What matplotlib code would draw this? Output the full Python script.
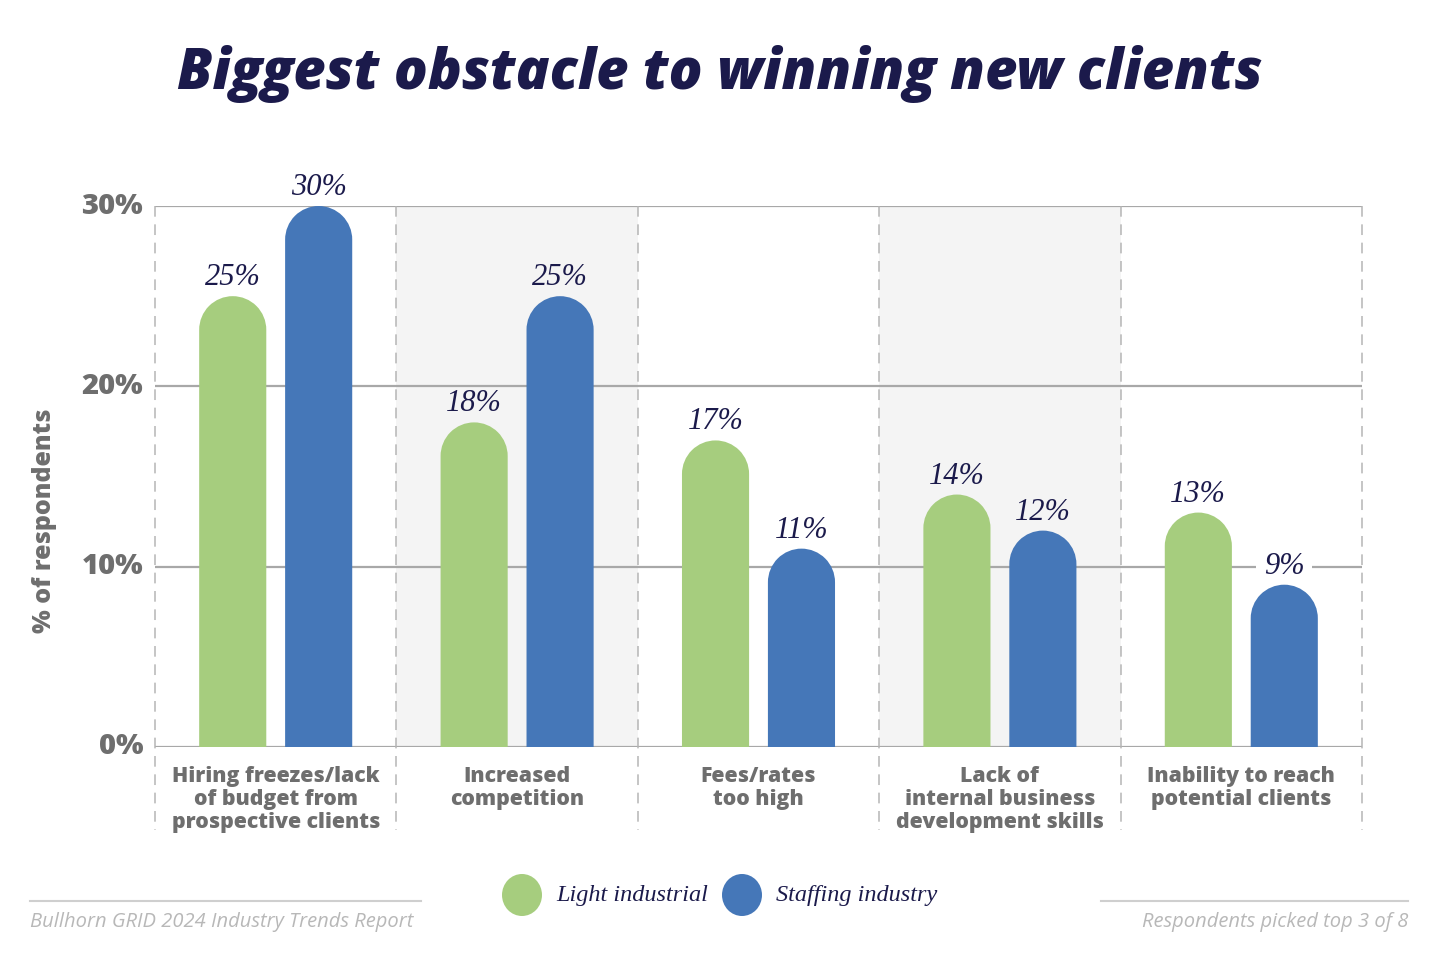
import matplotlib.pyplot as plt
import numpy as np
from matplotlib.lines import Line2D
from matplotlib.patches import Ellipse, PathPatch, Rectangle
from matplotlib.path import Path

# -------------------- data --------------------
categories = [
    "Hiring freezes/lack\nof budget from\nprospective clients",
    "Increased\ncompetition",
    "Fees/rates\ntoo high",
    "Lack of\ninternal business\ndevelopment skills",
    "Inability to reach\npotential clients",
]
light_industrial = [25, 18, 17, 14, 13]
staffing_industry = [30, 25, 11, 12, 9]
series_names = ["Light industrial", "Staffing industry"]
y_ticks = [0, 10, 20, 30]
y_tick_labels = ["0%", "10%", "20%", "30%"]

# -------------------- style --------------------
GREEN = "#a6cd7e"
BLUE = "#4577b8"
NAVY = "#1b1a4b"
GREY_TXT = "#6e6e6e"
GRID = "#a8a8a8"
SHADE = "#f4f4f4"
SANS = "Open Sans"
SERIF = "Liberation Serif"

W, H, DPI = 1440, 956, 100
fig = plt.figure(figsize=(W / DPI, H / DPI), dpi=DPI)
fig.patch.set_facecolor("white")

# axes box in pixels: left 155, right 1362, 0% at y=747, 30% at y=206
ax = fig.add_axes([155 / W, (H - 747) / H, 1207 / W, 541 / H])
n = len(categories)
ax.set_xlim(-0.5, n - 0.5)
ax.set_ylim(0, 30)
ax.axis("off")

px_x = 1207 / n            # pixels per x unit
px_y = 541 / 30            # pixels per y unit

# alternating shaded columns
for i in range(n):
    if i % 2 == 1:
        ax.add_patch(Rectangle((i - 0.5, 0), 1, 30, facecolor=SHADE,
                               edgecolor="none", zorder=0))

# horizontal grid
for t in y_ticks:
    ax.axhline(t, color=GRID, lw=1.6, zorder=1)

# dashed dividers, running below the axis
for b in np.arange(-0.5, n, 1.0):
    ax.plot([b, b], [30, -4.6], color="#b5b5b5", lw=1.1,
            dashes=(7, 5), clip_on=False, zorder=1)

# y tick labels
for t, lab in zip(y_ticks, y_tick_labels):
    ax.text(-0.5 - 12 / px_x, t, lab, ha="right", va="center",
            fontsize=21, fontweight="heavy", color=GREY_TXT, family=SANS)

# category labels
for i, c in enumerate(categories):
    ax.text(i, -1.05, c, ha="center", va="top", fontsize=15.3,
            fontweight="heavy", color=GREY_TXT, family=SANS,
            linespacing=1.12, clip_on=False)


def rounded_bar(xc, h, w, color):
    """Bar with a semicircular top, one path so there is no seam."""
    rx = w / 2
    ry = rx * px_x / px_y
    arc = Path.arc(0, 180)
    arc_pts = arc.vertices * [rx, ry] + [xc, h - ry]
    verts = ([(xc + rx, 0), (xc + rx, h - ry)] + list(arc_pts[1:])
             + [(xc - rx, 0), (xc + rx, 0)])
    codes = ([Path.MOVETO, Path.LINETO] + list(arc.codes[1:])
             + [Path.LINETO, Path.CLOSEPOLY])
    ax.add_patch(PathPatch(Path(verts, codes), facecolor=color,
                           edgecolor="none", zorder=3))


bar_w = 0.278
offset = 0.178
gap = 11 / px_y
cap = 22 / px_y
x = np.arange(n)
for vals, col, off in [(light_industrial, GREEN, -offset),
                       (staffing_industry, BLUE, offset)]:
    for i, v in enumerate(vals):
        xc = x[i] + off
        rounded_bar(xc, v, bar_w, col)
        bg = SHADE if i % 2 == 1 else "white"
        # knock out the grid line only where it runs through the label
        hits = any(v + gap < t < v + gap + cap for t in y_ticks)
        box = dict(boxstyle="square,pad=0.25", fc=bg, ec="none") if hits else None
        ax.text(xc, v + gap, f"{v}%", ha="center", va="baseline",
                fontsize=22, style="italic", color=NAVY, family=SERIF,
                bbox=box, zorder=2, clip_on=False)

# y axis title
fig.text(45 / W, 1 - 521 / H, "% of respondents", rotation=90,
         ha="center", va="center", fontsize=18, fontweight="heavy",
         color=GREY_TXT, family=SANS)

# title
fig.text(720 / W, 1 - 74 / H, "Biggest obstacle to winning new clients",
         ha="center", va="center", fontsize=40.3, fontweight="heavy",
         style="italic", color=NAVY, family=SANS)

# legend
for cx, col, tx, name in [(522, GREEN, 556, series_names[0]),
                          (742, BLUE, 776, series_names[1])]:
    fig.add_artist(Ellipse((cx / W, 1 - 895 / H), 40 / W, 42 / H,
                           transform=fig.transFigure, facecolor=col,
                           edgecolor="none"))
    fig.text(tx / W, 1 - 895 / H, name, ha="left", va="center",
             fontsize=17.5, style="italic", color=NAVY, family=SERIF)

# footer
for x0, x1 in [(30, 421), (1101, 1408)]:
    fig.add_artist(Line2D([x0 / W, x1 / W], [1 - 901 / H] * 2,
                          transform=fig.transFigure, color="#cfcfcf", lw=1.5))
fig.text(30 / W, 1 - 922 / H, "Bullhorn GRID 2024 Industry Trends Report",
         ha="left", va="center", fontsize=14.5, style="italic",
         color="#b8b8b8", family=SANS)
fig.text(1408 / W, 1 - 922 / H, "Respondents picked top 3 of 8",
         ha="right", va="center", fontsize=14.5, style="italic",
         color="#b8b8b8", family=SANS)

fig.savefig("out.png", dpi=DPI)
